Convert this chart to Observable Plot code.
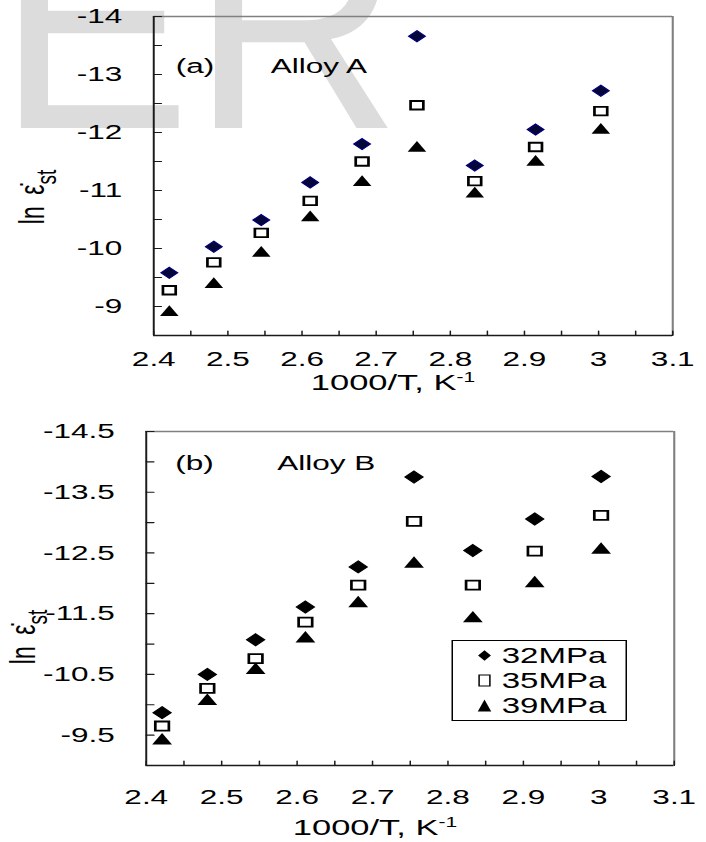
<!DOCTYPE html>
<html>
<head>
<meta charset="utf-8">
<script src="https://cdn.jsdelivr.net/npm/d3@7"></script>
<script src="https://cdn.jsdelivr.net/npm/@observablehq/plot@0.6"></script>
<style>
  html, body { margin: 0; padding: 0; background: #fff; }
  body { width: 706px; height: 842px; overflow: hidden; position: relative; font-family: Arial, "Liberation Sans", sans-serif; }
  #wm { position: absolute; left: 0; top: 0; z-index: 0; }
  #wrap { position: absolute; left: 0; top: 0; width: 471px; height: 842px; transform: scaleX(1.5); transform-origin: 0 0; z-index: 1; }
  .panel { position: absolute; left: 0; }
  #legend { position: absolute; left: 300.5px; top: 640px; width: 115px; height: 79px; border: 1px solid #000; background: #fff; font-size: 22px; color: #000; }
  #legend .row { position: absolute; left: 0; height: 25px; line-height: 25px; width: 115px; }
  #legend .row svg { position: absolute; top: 0; }
  #legend .row span { position: absolute; left: 33px; top: 0; }
</style>
</head>
<body>
<svg id="wm" width="706" height="842"></svg>
<div id="wrap">
  <div id="top" class="panel" style="top:0px"></div>
  <div id="bottom" class="panel" style="top:405px"></div>
  <div id="legend"></div>
</div>
<script>
// ---------------- data ----------------
const invT = [2.421, 2.481, 2.545, 2.611, 2.681, 2.755, 2.833, 2.915, 3.003];
const seriesNames = ["32MPa", "35MPa", "39MPa"];

const alloyA_32 = [-9.58, -10.03, -10.49, -11.14, -11.80, -13.66, -11.43, -12.05, -12.72];
const alloyA_35 = [-9.28, -9.76, -10.27, -10.82, -11.50, -12.47, -11.16, -11.75, -12.37];
const alloyA_39 = [-8.90, -9.38, -9.92, -10.53, -11.14, -11.73, -10.94, -11.49, -12.04];

const alloyB_32 = [-9.87, -10.50, -11.07, -11.61, -12.27, -13.75, -12.54, -13.06, -13.76];
const alloyB_35 = [-9.65, -10.27, -10.76, -11.36, -11.97, -13.02, -11.97, -12.53, -13.12];
const alloyB_39 = [-9.41, -10.06, -10.57, -11.09, -11.67, -12.32, -11.42, -12.00, -12.55];

const xTickLabels = [2.4, 2.5, 2.6, 2.7, 2.8, 2.9, 3, 3.1];
const xTickMarks = [2.4, 2.45, 2.5, 2.55, 2.6, 2.65, 2.7, 2.75, 2.8, 2.85, 2.9, 2.95, 3, 3.05, 3.1];
const yLabelsA = [-14, -13, -12, -11, -10, -9];
const yMarksA = [-14, -13.5, -13, -12.5, -12, -11.5, -11, -10.5, -10, -9.5, -9, -8.5];
const yLabelsB = [-14.5, -13.5, -12.5, -11.5, -10.5, -9.5];
const yMarksB = [-14.5, -14, -13.5, -13, -12.5, -12, -11.5, -11, -10.5, -10, -9.5, -9];

// ---------------- helpers ----------------
const FONT = "Arial, 'Liberation Sans', sans-serif";
const tickUp = {draw(ctx, l) { ctx.moveTo(0, 0); ctx.lineTo(0, -l); }};
const tickRight = {draw(ctx, l) { ctx.moveTo(0, 0); ctx.lineTo(l, 0); }};
const rows = (ys) => invT.map((x, i) => ({x, y: ys[i]}));

function panel({s32, s35, s39, yDomain, yLabels, yMarks, height, marginTop, marginBottom, marginLeft, marginRight,
                xPad, tag, tagDx, name, nameDx, tagDy, diamondFill, diamondStroke, rD, rS, rT}) {
  return Plot.plot({
    width: 471, height, marginTop, marginBottom, marginLeft, marginRight,
    style: {background: "transparent", overflow: "visible", fontFamily: FONT, fontSize: "21px", color: "#000"},
    x: {domain: [2.4, 3.1]},
    y: {domain: yDomain},
    marks: [
      Plot.ruleY([yDomain[1]], {stroke: "#808080", strokeWidth: 1.4}),
      Plot.ruleX([3.1], {stroke: "#808080", strokeWidth: 1.4}),
      Plot.ruleY([yDomain[0]], {stroke: "#1a1a1a", strokeWidth: 1.4}),
      Plot.ruleX([2.4], {stroke: "#1a1a1a", strokeWidth: 1.3}),
      Plot.vector(xTickMarks, {x: d => d, frameAnchor: "bottom", length: 4.5, anchor: "start", shape: tickUp, stroke: "#1a1a1a", strokeWidth: 1}),
      Plot.vector(yMarks, {y: d => d, frameAnchor: "left", length: 5, anchor: "start", shape: tickRight, stroke: "#1a1a1a", strokeWidth: 1.2}),
      Plot.axisX(xTickLabels, {tickSize: 0, tickPadding: xPad, tickFormat: d => String(d), fontSize: 21, label: null}),
      Plot.axisY(yLabels, {tickSize: 0, tickPadding: 21, tickFormat: d => String(d), fontSize: 21, label: null}),
      Plot.text([tag], {text: d => d, frameAnchor: "top-left", dx: tagDx, dy: tagDy, textAnchor: "start", lineAnchor: "middle", fontSize: 21, fill: "#000"}),
      Plot.text([name], {text: d => d, frameAnchor: "top-left", dx: nameDx, dy: tagDy, textAnchor: "start", lineAnchor: "middle", fontSize: 21, fill: "#000"}),
      Plot.dot(rows(s39), {x: "x", y: "y", symbol: "triangle", r: rT, fill: "#000", stroke: "none"}),
      Plot.dot(rows(s35), {x: "x", y: "y", symbol: "square", r: rS, fill: "#fff", stroke: "#000", strokeWidth: 1.8}),
      Plot.dot(rows(s32), {x: "x", y: "y", symbol: "diamond2", r: rD, fill: diamondFill, stroke: diamondStroke, strokeWidth: 1})
    ]
  });
}

document.getElementById("top").append(panel({
  s32: alloyA_32, s35: alloyA_35, s39: alloyA_39,
  yDomain: [-8.5, -14], yLabels: yLabelsA, yMarks: yMarksA,
  height: 405, marginTop: 16, marginBottom: 70, marginLeft: 102, marginRight: 23, xPad: 16,
  tag: "(a)", tagDx: 14.7, name: "Alloy A", nameDx: 78, tagDy: 50,
  diamondFill: "#05053a", diamondStroke: "#00007a", rD: 5.0, rS: 4.8, rT: 4.6
}));

document.getElementById("bottom").append(panel({
  s32: alloyB_32, s35: alloyB_35, s39: alloyB_39,
  yDomain: [-9, -14.5], yLabels: yLabelsB, yMarks: yMarksB,
  height: 437, marginTop: 26, marginBottom: 77, marginLeft: 97, marginRight: 22, xPad: 24,
  tag: "(b)", tagDx: 19.3, name: "Alloy B", nameDx: 87.3, tagDy: 32,
  diamondFill: "#000", diamondStroke: "#000", rD: 5.4, rS: 5.1, rT: 4.9
}));

// ---------------- axis titles (unscaled coordinates inside the stretched wrapper) ----------------
const ov = d3.select("#wrap").append("svg")
  .attr("width", 471).attr("height", 842)
  .style("position", "absolute").style("left", "0px").style("top", "0px")
  .style("overflow", "visible").style("pointer-events", "none");

function xTitle(cx, by) {
  const t = ov.append("text").attr("x", cx).attr("y", by).attr("text-anchor", "middle")
    .attr("font-size", 23).attr("font-family", FONT).attr("fill", "#000");
  t.append("tspan").text("1000/T, K");
  t.append("tspan").attr("dy", "-0.55em").attr("font-size", "14px").text("-1");
}
function yTitle(bx, cy) {
  const t = ov.append("text").attr("transform", `translate(${bx},${cy}) rotate(-90)`)
    .attr("text-anchor", "middle").attr("font-size", 23).attr("font-family", FONT).attr("fill", "#000");
  t.append("tspan").text("ln\u2002\u03B5\u0307");
  t.append("tspan").attr("dy", "0.45em").attr("font-size", "19px").text("st");
}
xTitle(262, 390);
xTitle(250, 835);
yTitle(29, 197);
yTitle(23, 637);

// ---------------- legend ----------------
const legendRows = [
  {name: seriesNames[0], top: 2, shape: "diamond"},
  {name: seriesNames[1], top: 26.5, shape: "square"},
  {name: seriesNames[2], top: 52, shape: "triangle"}
];
const lg = d3.select("#legend");
for (const r of legendRows) {
  const row = lg.append("div").attr("class", "row").style("top", r.top + "px");
  const svg = row.append("svg").attr("width", 12).attr("height", 25).style("left", "15.5px");
  if (r.shape === "diamond") svg.append("path").attr("d", "M6,7.2L10.3,12.5L6,17.8L1.7,12.5Z").attr("fill", "#000");
  if (r.shape === "square") svg.append("rect").attr("x", 2.4).attr("y", 7).attr("width", 7.2).attr("height", 11).attr("fill", "#fff").attr("stroke", "#000").attr("stroke-width", 1);
  if (r.shape === "triangle") svg.append("path").attr("d", "M6,6.5L10.5,18.5L1.5,18.5Z").attr("fill", "#000");
  row.append("span").text(r.name);
}

// ---------------- watermark ----------------
d3.select("#wm").append("text")
  .attr("transform", "translate(-3,128) scale(0.97,1)")
  .attr("font-size", 300).attr("font-family", FONT).attr("fill", "#dcdcdc")
  .text("ER");
</script>
</body>
</html>
